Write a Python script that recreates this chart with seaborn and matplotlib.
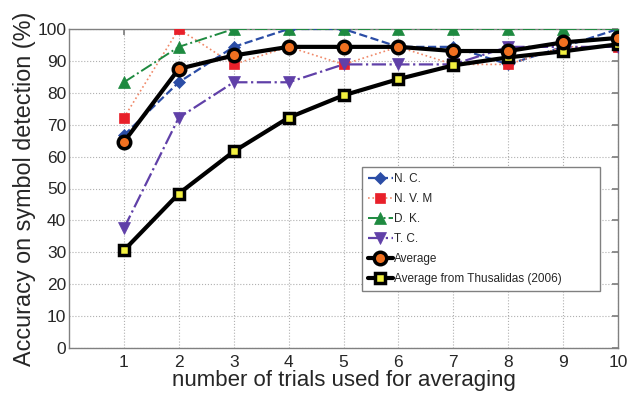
import matplotlib
matplotlib.use("Agg")
import matplotlib.pyplot as plt
import seaborn as sns
import pandas as pd

trials = [1, 2, 3, 4, 5, 6, 7, 8, 9, 10]
nc = [66.7, 83.3, 94.4, 100, 100, 94.4, 94.4, 88.9, 94.4, 100]
nvm = [72.2, 100, 88.9, 94.4, 88.9, 94.4, 88.9, 88.9, 94.4, 94.4]
dk = [83.3, 94.4, 100, 100, 100, 100, 100, 100, 100, 100]
tc = [37.5, 72.2, 83.3, 83.3, 88.9, 88.9, 88.9, 94.4, 94.4, 94.4]
average = [64.6, 87.5, 91.7, 94.4, 94.4, 94.4, 93.1, 93.1, 95.8, 97.2]
thusalidas = [30.6, 48.4, 61.6, 72.2, 79.2, 84.3, 88.6, 91.1, 93.0, 95.2]
labels = ["N. C.", "N. V. M", "D. K.", "T. C.", "Average", "Average from Thusalidas (2006)"]
yticks = [0, 10, 20, 30, 40, 50, 60, 70, 80, 90, 100]

sns.set_theme(style="white")
plt.rcParams['font.family'] = ['Liberation Sans', 'DejaVu Sans']

fig = plt.figure(figsize=(6.29, 3.93), dpi=100)
ax = fig.add_axes([69/629, 45/393, 549/629, 319/393])

styles = [
    dict(color="#2B4DA6", linestyle="--", marker="D", markersize=6, mfc="#2B4DA6", mec="#2B4DA6", mew=0.5, lw=1.6, z=3),
    dict(color="#F08868", linestyle=":", marker="s", markersize=7, mfc="#E8202A", mec="#E8202A", mew=0.5, lw=1.2, z=3),
    dict(color="#1E8A40", linestyle="-.", marker="^", markersize=8, mfc="#1E8A40", mec="#1E8A40", mew=0.5, lw=1.4, z=3),
    dict(color="#6040A8", linestyle="-.", marker="v", markersize=8, mfc="#6040A8", mec="#6040A8", mew=0.5, lw=1.6, z=3),
    dict(color="black", linestyle="-", marker="o", markersize=9, mfc="#F07020", mec="black", mew=2.5, lw=3.0, z=5),
    dict(color="black", linestyle="-", marker="s", markersize=7.5, mfc="#F2F040", mec="black", mew=2.5, lw=3.0, z=4),
]
series = [nc, nvm, dk, tc, average, thusalidas]

for vals, lab, st in zip(series, labels, styles):
    df = pd.DataFrame({"trial": trials, "acc": vals})
    sns.lineplot(data=df, x="trial", y="acc", ax=ax, label=lab, color=st["color"],
                 linestyle=st["linestyle"], marker=st["marker"], markersize=st["markersize"],
                 markerfacecolor=st["mfc"], markeredgecolor=st["mec"], markeredgewidth=st["mew"],
                 linewidth=st["lw"], zorder=st["z"])

ax.set_xlim(0, 10)
ax.set_ylim(0, 100)
ax.set_xticks(trials)
ax.set_yticks(yticks)
ax.tick_params(axis="both", direction="in", labelsize=12.5, length=4, color="#808080",
               top=True, right=True)
ax.tick_params(axis="x", pad=5)
ax.tick_params(axis="y", pad=2)
ax.grid(True, linestyle=":", color="#B0B0B0", linewidth=0.8)
for sp in ax.spines.values():
    sp.set_color("#808080")
    sp.set_linewidth(1.0)

ax.set_xlabel("number of trials used for averaging", fontsize=16, labelpad=0)
ax.set_ylabel("Accuracy on symbol detection (%)", fontsize=16.8, labelpad=1)

leg = ax.legend(loc="upper left", bbox_to_anchor=(0.534, 0.567, 0.4335, 0.0), mode="expand",
                fontsize=8.5, handlelength=2.1, handletextpad=0.1, borderaxespad=0,
                frameon=True, fancybox=False, edgecolor="#808080", framealpha=1,
                labelspacing=0.68, borderpad=0.5)
leg.get_frame().set_linewidth(1.0)

fig.savefig("out.png", dpi=100)
